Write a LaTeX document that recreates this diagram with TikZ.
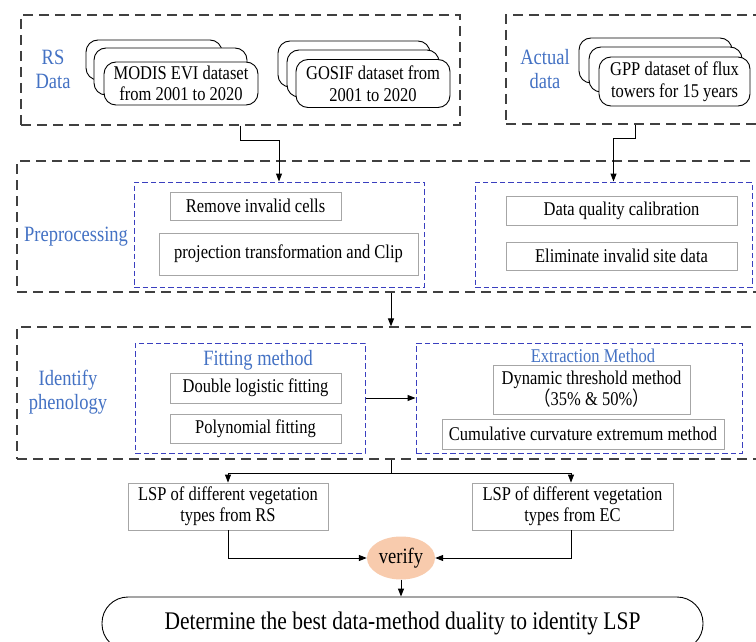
\documentclass[tikz,border=0pt]{standalone}
\usepackage{fontspec}
\usepackage{graphicx}
\setmainfont{Liberation Serif}
\newfontfamily\cjk{Noto Sans CJK SC}
\usetikzlibrary{arrows.meta,shapes.geometric,calc}
\definecolor{lblblue}{HTML}{4472C4}
\definecolor{dashblue}{HTML}{3A3FBF}
\definecolor{outergray}{HTML}{404040}
\definecolor{peach}{HTML}{F8CBAD}
\newcommand\vs[1]{\scalebox{1}[1.18]{#1}}
\tikzset{
  outerbox/.style={draw=outergray, line width=1.2pt, dash pattern=on 10pt off 6pt, inner sep=0pt},
  bluebox/.style={draw=dashblue, line width=1pt, dash pattern=on 5.5pt off 3pt, inner sep=0pt},
  graybox/.style={draw=gray!70, line width=0.8pt, inner sep=0pt, align=center, font=\fontsize{16.5}{21}\selectfont},
  rbox/.style={draw=black, line width=0.9pt, rounded corners=12pt, fill=white, inner sep=0pt, align=center, font=\fontsize{16.5}{21.5}\selectfont},
  bluelabel/.style={text=lblblue, align=center, inner sep=0pt, font=\fontsize{18.5}{24}\selectfont},
  conn/.style={draw=black, line width=1pt},
  arr/.style={conn, -{Triangle[length=8pt,width=6pt]}},
}
\begin{document}
\begin{tikzpicture}[x=1pt,y=-1pt]
\useasboundingbox (0,0) rectangle (756,642);
\fill[white] (0,0) rectangle (756,642);

% ---------- top: RS data ----------
\node[outerbox, minimum width=439pt, minimum height=110pt] (rs) at (240.5,70) {};
\node[bluelabel] (rslbl) at (53,69) {\vs{RS}\\\vs{Data}};
\node[rbox, minimum width=136pt, minimum height=40pt] (m1) at (154,60) {};
\node[rbox, minimum width=153pt, minimum height=47pt] (m2) at (170.5,71.5) {};
\node[rbox, minimum width=154pt, minimum height=43pt] (m3) at (181,83.5) {\vs{MODIS EVI dataset}\\\vs{from 2001 to 2020}};
\node[rbox, minimum width=152pt, minimum height=46pt] (g1) at (354,64) {};
\node[rbox, minimum width=152pt, minimum height=47pt] (g2) at (363,73.5) {};
\node[rbox, minimum width=154pt, minimum height=48pt] (g3) at (373,83.5) {\vs{GOSIF dataset from}\\\vs{2001 to 2020}};

% ---------- top: Actual data ----------
\node[outerbox, minimum width=274pt, minimum height=109pt] (act) at (643,69.5) {};
\node[bluelabel] (actlbl) at (545,69) {\vs{Actual}\\\vs{data}};
\node[rbox, minimum width=153pt, minimum height=45pt] (p1) at (655.5,60.5) {};
\node[rbox, minimum width=153pt, minimum height=45pt] (p2) at (665.5,69.5) {};
\node[rbox, minimum width=151pt, minimum height=49pt] (p3) at (674.5,81.5) {\vs{GPP dataset of flux}\\\vs{towers for 15 years}};

% ---------- Preprocessing ----------
\node[outerbox, minimum width=773pt, minimum height=131pt] (pre) at (403.5,226.5) {};
\node[bluelabel] (prelbl) at (76,237) {\vs{Preprocessing}};
\node[bluebox, minimum width=290pt, minimum height=105pt] (pl) at (279,234.5) {};
\node[bluebox, minimum width=277pt, minimum height=105pt] (pr) at (613.5,234.5) {};
\node[graybox, minimum width=171pt, minimum height=28pt] (rem) at (255.5,206) {\vs{Remove invalid cells}};
\node[graybox, minimum width=259pt, minimum height=42pt] (proj) at (288.5,254) {\vs{projection transformation and Clip}};
\node[graybox, minimum width=231pt, minimum height=29pt] (dq) at (621.5,210.5) {\vs{Data quality calibration}};
\node[graybox, minimum width=231pt, minimum height=28pt] (elim) at (621.5,256) {\vs{Eliminate invalid site data}};

% ---------- Identify phenology ----------
\node[outerbox, minimum width=773pt, minimum height=132pt] (idf) at (403.5,393) {};
\node[bluelabel] (idflbl) at (68,392) {\vs{Identify}\\\vs{phenology}};
\node[bluebox, minimum width=230pt, minimum height=110pt] (fit) at (250,398) {};
\node[bluebox, minimum width=326pt, minimum height=110pt] (ext) at (579,398) {};
\node[bluelabel] (fitlbl) at (258,360) {\vs{Fitting method}};
\node[bluelabel, font=\fontsize{16.5}{20}\selectfont] (extlbl) at (593,356) {\vs{Extraction Method}};
\node[graybox, minimum width=171pt, minimum height=30pt] (dl) at (255.5,388) {\vs{Double logistic fitting}};
\node[graybox, minimum width=171pt, minimum height=29pt] (poly) at (255.5,428.5) {\vs{Polynomial fitting}};
\node[graybox, minimum width=197pt, minimum height=49pt] (dyn) at (591.5,389.5) {\vs{Dynamic threshold method}\\\vs{{\cjk （}35\% \& 50\%{\cjk ）}}};
\node[graybox, minimum width=282pt, minimum height=30pt] (cum) at (583,434) {\vs{Cumulative curvature extremum method}};

% ---------- results ----------
\node[graybox, minimum width=200pt, minimum height=47pt] (lspr) at (228,506.5) {\vs{LSP of different vegetation}\\\vs{types from RS}};
\node[graybox, minimum width=201pt, minimum height=47pt] (lspe) at (572.5,506.5) {\vs{LSP of different vegetation}\\\vs{types from EC}};
\node[ellipse, fill=peach, draw=none, minimum width=68pt, minimum height=43pt, inner sep=0pt, font=\fontsize{18.5}{22}\selectfont] (ver) at (401,558) {\vs{verify}};
\node[draw=black, line width=0.9pt, rounded corners=26pt, minimum width=601pt, minimum height=53pt, inner sep=0pt, font=\fontsize{21.5}{26}\selectfont] (fin) at (402.5,623.5) {\vs{Determine the best data-method duality to identity LSP}};

% ---------- connectors ----------
\draw[arr] (rs.south) -- ++(0,15) -| (pl.north);
\draw[arr] ([xshift=-8pt]act.south) -- ++(0,14) -| (pr.north);
\draw[arr] ([xshift=-12.5pt]pre.south) -- ([xshift=-12.5pt]idf.north);
\draw[arr] (fit.east) -- (ext.west);
\draw[conn] ([xshift=-12.5pt]idf.south) -- ++(0,14) coordinate (split);
\draw[arr] (split) -| (lspr.north);
\draw[arr] (split) -| ([xshift=-1.5pt]lspe.north);
\draw[arr] (lspr.south) |- (ver.west);
\draw[arr] ([xshift=-1.5pt]lspe.south) |- (ver.east);
\draw[arr] (ver.south) -- (fin.north -| ver.south);
\end{tikzpicture}
\end{document}
